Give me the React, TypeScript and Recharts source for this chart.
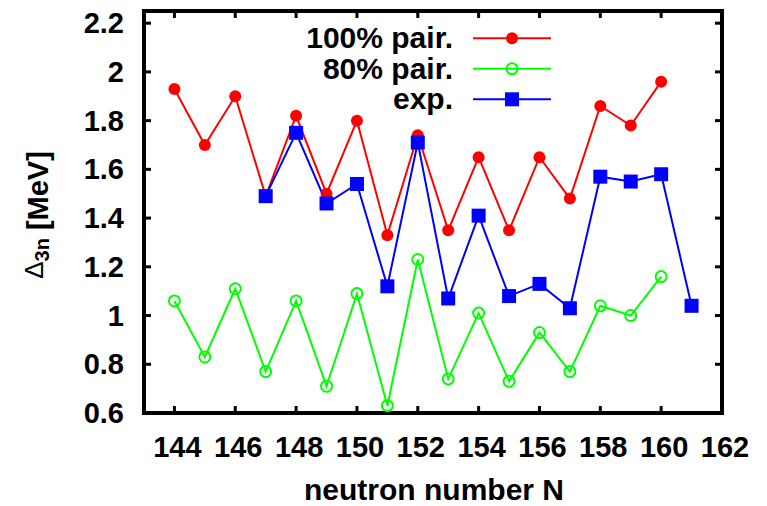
import React from "react";
import { LineChart, Line, XAxis, YAxis, ReferenceArea } from "recharts";

const neutronN = [144, 145, 146, 147, 148, 149, 150, 151, 152, 153, 154, 155, 156, 157, 158, 159, 160, 161];
const pair100 = [1.93, 1.70, 1.90, 1.49, 1.82, 1.50, 1.80, 1.33, 1.74, 1.35, 1.65, 1.35, 1.65, 1.48, 1.86, 1.78, 1.96, null];
const pair80 = [1.06, 0.83, 1.11, 0.77, 1.06, 0.71, 1.09, 0.63, 1.23, 0.74, 1.01, 0.73, 0.93, 0.77, 1.04, 1.0, 1.16, null];
const expData = [null, null, null, 1.49, 1.75, 1.46, 1.54, 1.12, 1.71, 1.07, 1.41, 1.08, 1.13, 1.03, 1.57, 1.55, 1.58, 1.04];
const xTicks = [144, 146, 148, 150, 152, 154, 156, 158, 160, 162];
const yTicks = [0.6, 0.8, 1, 1.2, 1.4, 1.6, 1.8, 2, 2.2];
const seriesNames = ["100% pair.", "80% pair.", "exp."];

const data = neutronN.map((n, i) => ({ n, p100: pair100[i], p80: pair80[i], exp: expData[i] }));

const W = 767;
const H = 506;
const PL = 144;
const PR = 722;
const PT = 11;
const PB = 413;
const FONT = "'Liberation Sans', Arial, Helvetica, sans-serif";
const RED = "#ff0000";
const GREEN = "#00ff00";
const BLUE = "#0000ff";

const XTick = (props: any) => {
  const { x, payload } = props;
  return (
    <g>
      <line x1={x} x2={x} y1={PB} y2={PB - 7} stroke="#000" strokeWidth={3} />
      <line x1={x} x2={x} y1={PT} y2={PT + 7} stroke="#000" strokeWidth={3} />
      <text x={x + 3} y={PB + 44} textAnchor="middle" fontFamily={FONT} fontWeight="bold" fontSize={29} fill="#000">
        {payload.value}
      </text>
    </g>
  );
};

const YTick = (props: any) => {
  const { y, payload } = props;
  return (
    <g>
      <line x1={PL} x2={PL + 7} y1={y} y2={y} stroke="#000" strokeWidth={3} />
      <line x1={PR} x2={PR - 7} y1={y} y2={y} stroke="#000" strokeWidth={3} />
      <text x={PL - 20} y={y + 10} textAnchor="end" fontFamily={FONT} fontWeight="bold" fontSize={29} fill="#000">
        {String(payload.value)}
      </text>
    </g>
  );
};

const SquareDot = (props: any) => {
  const { cx, cy, index } = props;
  if (cx == null || cy == null) return <g key={`sq-${index}`} />;
  return <rect key={`sq-${index}`} x={cx - 7} y={cy - 7} width={14} height={14} fill={BLUE} />;
};

const LegendBox = () => {
  const rows = [
    { name: seriesNames[0], color: RED, kind: "filled" },
    { name: seriesNames[1], color: GREEN, kind: "open" },
    { name: seriesNames[2], color: BLUE, kind: "square" },
  ];
  return (
    <g>
      {rows.map((r, i) => {
        const y = 38.3 + i * 30.5;
        return (
          <g key={r.name}>
            <text x={453} y={y + 10} textAnchor="end" fontFamily={FONT} fontWeight="bold" fontSize={30} fill="#000">
              {r.name}
            </text>
            <line x1={473} x2={551} y1={y} y2={y} stroke={r.color} strokeWidth={2} />
            {r.kind === "filled" && <circle cx={512} cy={y} r={6} fill={r.color} />}
            {r.kind === "open" && <circle cx={512} cy={y} r={5.5} fill="none" stroke={r.color} strokeWidth={2} />}
            {r.kind === "square" && <rect x={505} y={y - 7} width={14} height={14} fill={r.color} />}
          </g>
        );
      })}
    </g>
  );
};

const AxisTitles = () => (
  <g>
    <text x={434} y={500} textAnchor="middle" fontFamily={FONT} fontWeight="bold" fontSize={30} fill="#000">
      neutron number N
    </text>
    <text
      x={48}
      y={215}
      transform="rotate(-90, 48, 215)"
      textAnchor="middle"
      fontFamily={FONT}
      fontSize={29}
      fill="#000"
    >
      <tspan fontWeight="normal" fontSize={26} dy={-5}>Δ</tspan>
      <tspan fontWeight="bold" fontSize={20} dy={6}>3n</tspan>
      <tspan fontWeight="bold" dy={-1}> [MeV]</tspan>
    </text>
  </g>
);

export default function App() {
  return (
    <div style={{ position: "absolute", left: 0, top: 0, width: W, height: H, background: "#fff" }}>
      <LineChart
        width={W}
        height={H}
        data={data}
        margin={{ top: PT, right: W - PR, bottom: 0, left: 0 }}
      >
        <XAxis
          dataKey="n"
          type="number"
          domain={[143, 162]}
          ticks={xTicks}
          interval={0}
          height={H - PB}
          tickLine={false}
          axisLine={false}
          tick={<XTick />}
          allowDataOverflow
        />
        <YAxis
          type="number"
          domain={[0.6, 2.25]}
          ticks={yTicks}
          interval={0}
          width={PL}
          tickLine={false}
          axisLine={false}
          tick={<YTick />}
          allowDataOverflow
        />
        <Line
          dataKey="p100"
          stroke={RED}
          strokeWidth={2}
          dot={{ r: 6, fill: RED, stroke: RED, strokeWidth: 0 }}
          activeDot={false}
          isAnimationActive={false}
        />
        <Line
          dataKey="p80"
          stroke={GREEN}
          strokeWidth={2}
          dot={{ r: 5.5, fill: "none", stroke: GREEN, strokeWidth: 2 }}
          activeDot={false}
          isAnimationActive={false}
        />
        <Line
          dataKey="exp"
          stroke={BLUE}
          strokeWidth={2}
          dot={<SquareDot />}
          activeDot={false}
          isAnimationActive={false}
        />
        <ReferenceArea
          x1={143}
          x2={162}
          y1={0.6}
          y2={2.25}
          fill="none"
          stroke="#000"
          strokeWidth={4}
          ifOverflow="visible"
        />
        <LegendBox />
        <AxisTitles />
      </LineChart>
    </div>
  );
}
